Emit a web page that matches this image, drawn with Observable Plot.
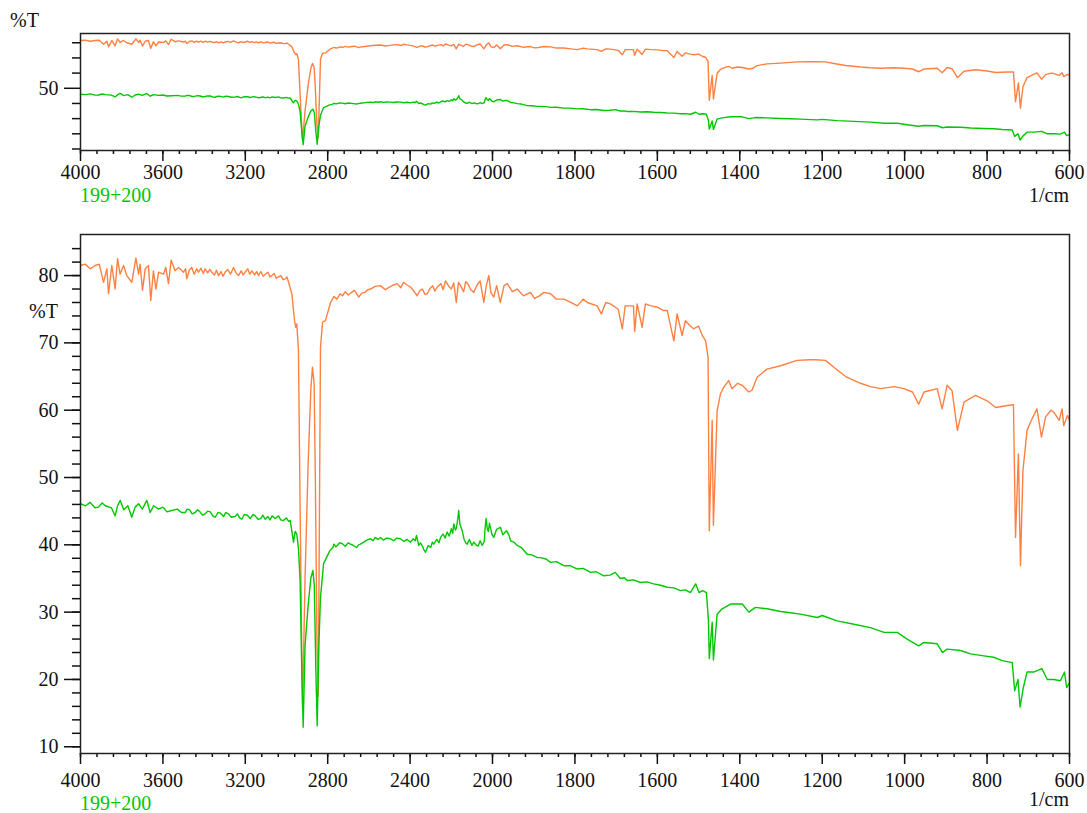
<!DOCTYPE html>
<html><head><meta charset="utf-8">
<script src="https://cdn.jsdelivr.net/npm/d3@7"></script>
<script src="https://cdn.jsdelivr.net/npm/@observablehq/plot@0.6"></script>
<style>
body{margin:0;background:#fff;}
#wrap{position:relative;width:1087px;height:813px;font-family:"Liberation Serif","Times New Roman",Times,"DejaVu Serif",serif;}
.lbl{position:absolute;font-size:20px;line-height:20px;white-space:nowrap;color:#111;}
.panel{position:absolute;left:0;}
svg text{font-family:"Liberation Serif","Times New Roman",Times,"DejaVu Serif",serif !important;}
</style></head><body><div id="wrap">
<div id="top" class="panel" style="top:0"></div>
<div id="bot" class="panel" style="top:210px"></div>
<div class="lbl" style="left:10px;top:10px">%T</div>
<div class="lbl" style="left:80px;top:185px;color:#00c800">199+200</div>
<div class="lbl" style="right:18px;top:185px">1/cm</div>
<div class="lbl" style="left:29px;top:301px">%T</div>
<div class="lbl" style="left:80px;top:793px;color:#00c800">199+200</div>
<div class="lbl" style="right:18px;top:789px">1/cm</div>
</div>
<script>
// Orange spectrum (wavenumber, %T)
const orangeWn = [4000,3977,3953,3929,3909,3888,3872,3864,3848,3832,3820,3808,3791,3775,3751,3731,3718,3711,3699,3686,3670,3659,3646,3634,3621,3597,3586,3573,3560,3541,3524,3500,3490,3484,3472,3460,3448,3436,3427,3415,3404,3395,3383,3372,3363,3350,3340,3330,3318,3308,3298,3285,3272,3257,3245,3233,3220,3210,3201,3188,3178,3168,3155,3145,3136,3125,3113,3103,3090,3080,3071,3060,3050,3039,3027,3016,3006,2998,2990,2974,2961,2955,2950,2942,2932,2922,2910,2895,2882,2874,2866,2860,2852,2846,2840,2835,2825,2811,2786,2770,2755,2740,2728,2715,2700,2689,2670,2649,2635,2620,2605,2592,2570,2544,2520,2500,2480,2463,2445,2432,2415,2398,2380,2366,2352,2340,2328,2317,2303,2290,2280,2268,2250,2240,2228,2212,2200,2188,2176,2165,2155,2140,2130,2120,2105,2091,2075,2060,2050,2042,2030,2018,2008,1997,1990,1981,1972,1964,1952,1940,1925,1908,1898,1888,1875,1859,1845,1827,1810,1794,1780,1770,1746,1736,1725,1714,1695,1685,1678,1658,1655,1649,1637,1629,1615,1600,1585,1576,1560,1552,1540,1532,1520,1512,1500,1491,1483,1477,1474,1467,1464,1455,1447,1439,1427,1419,1405,1394,1378,1370,1358,1334,1301,1261,1230,1216,1192,1168,1143,1107,1083,1058,1026,1002,981,966,953,921,909,897,885,872,856,828,800,779,751,736,731,724,719,713,703,691,679,668,658,645,638,625,618,614,605,600];
const orangeT = [81.5,81.7,81.0,81.5,81.7,79.0,81.0,77.3,81.5,78.0,82.5,80.2,81.5,80.0,79.0,82.6,80.2,81.7,77.8,81.0,81.5,76.3,80.7,78.0,80.5,80.2,81.2,78.8,82.3,80.7,81.2,80.5,81.0,79.5,80.8,81.2,80.2,81.0,80.5,81.1,80.3,81.0,80.4,80.9,80.5,80.1,80.8,80.0,80.6,79.9,80.5,80.9,80.2,81.2,80.4,80.0,80.7,80.1,80.5,81.0,80.2,80.7,80.1,80.6,80.0,80.6,79.9,80.2,80.5,79.8,80.0,80.3,79.6,79.8,80.0,79.4,79.5,79.8,79.0,77.3,73.3,72.3,72.8,68.9,40.0,15.5,35.0,52.0,63.0,66.4,64.0,50.0,25.0,17.5,45.0,69.3,73.1,73.3,76.0,76.9,76.5,77.3,77.0,77.6,77.1,77.4,77.8,76.8,77.4,77.5,77.9,78.0,78.4,78.5,77.9,78.3,78.6,78.8,78.2,79.0,78.6,78.3,77.6,77.0,77.8,78.0,77.2,77.3,78.1,78.5,77.7,78.3,78.8,77.9,79.2,78.4,78.0,78.9,76.0,79.0,78.5,77.6,79.1,78.8,77.9,77.5,78.6,79.2,77.4,76.0,78.5,80.0,77.5,76.8,78.5,76.0,78.5,78.8,77.6,78.0,77.0,77.5,76.6,76.9,77.5,77.3,76.5,76.5,76.0,75.5,76.5,76.0,75.5,74.3,76.0,75.8,75.0,72.1,75.5,75.5,71.7,75.8,72.3,75.8,75.5,75.3,74.8,74.8,70.3,74.3,71.1,73.3,72.5,72.1,72.5,71.1,70.3,67.9,42.1,58.5,42.9,59.9,62.4,63.4,64.4,63.2,64.0,63.7,62.7,63.0,64.9,66.1,66.6,67.4,67.5,67.5,67.4,66.2,65.0,64.0,63.5,63.2,63.5,63.2,62.7,60.9,62.7,63.2,60.2,63.7,62.9,57.0,61.2,62.2,61.4,60.4,60.7,60.8,41.1,53.5,36.9,51.0,57.0,58.7,60.2,56.0,59.0,60.0,59.7,58.5,60.2,57.7,59.2,58.5];

// Green spectrum "199+200" (wavenumber, %T)
const greenWn = [4000,3975,3953,3930,3913,3895,3880,3850,3832,3820,3807,3790,3770,3751,3735,3718,3700,3678,3662,3645,3621,3600,3580,3557,3530,3510,3492,3482,3470,3458,3443,3432,3420,3408,3395,3383,3370,3358,3346,3333,3320,3305,3295,3282,3268,3250,3238,3227,3217,3205,3190,3176,3163,3152,3138,3125,3115,3104,3090,3080,3070,3055,3039,3028,3015,3000,2990,2982,2966,2958,2950,2942,2934,2925,2919,2910,2895,2882,2872,2865,2858,2851,2843,2835,2820,
  2790,2775,2770,2760,2754,2742,2730,2715,2700,2689,
  2675,2660,2650,2641,2625,2610,2592,2580,2570,2556,
  2544,2530,2515,2495,2480,2465,2447,2430,2415,2398,
  2385,2375,2369,2358,2350,2340,2332,2325,2312,2300,
  2292,2285,2270,2260,2252,2240,2230,2220,2210,2200,
  2193,2188,2180,2175,2168,2164,2158,2155,2147,2138,
  2130,2123,2112,2100,2091,2080,2070,2060,2050,2040,
  2036,2031,2025,2020,2015,2010,2003,1997,1990,1981,
  1975,1966,1960,1956,1948,1940,1930,1916,1905,1891,
  1884,1870,1859,1845,1827,1812,1794,1780,1762,1748,
  1730,1715,1702,1690,1680,1673,1658,1641,1625,1609,
  1592,1576,1560,1544,1532,1520,1507,1499,1490,1481,
  1476,1474,1467,1464,1455,1443,1422,1394,1378,1362,1334,1301,1277,1253,1212,1200,1164,1123,1083,1050,1018,994,966,953,921,908,897,864,840,808,784,763,739,733,725,720,712,703,687,667,654,638,622,612,607,600];
const greenT = [46.1,45.8,46.3,45.5,45.6,46.2,45.8,45.5,44.3,45.8,46.6,45.2,45.8,44.1,45.6,46.1,45.3,46.6,44.8,45.8,45.3,45.6,44.9,45.1,45.3,44.8,44.8,45.3,45.2,44.6,44.8,45.2,44.9,44.4,44.6,45.0,44.9,44.3,44.1,44.8,44.7,44.2,44.8,44.6,44.1,44.2,44.6,44.0,43.8,44.5,44.4,43.9,44.5,44.3,43.8,43.9,44.4,43.8,44.2,43.7,44.3,43.9,44.3,43.7,43.6,44.0,43.5,43.6,40.4,42.0,41.6,39.5,34.7,20.0,12.9,25.0,31.0,35.0,36.2,34.0,22.0,13.1,25.0,32.2,37.2,
  39.1,39.6,40.1,39.7,39.9,40.3,40.2,39.8,40.3,40.1,
  39.9,39.6,40.0,40.1,40.4,40.7,40.9,40.6,41.1,40.8,
  41.1,40.7,41.0,40.9,40.6,41.0,40.9,40.5,40.8,40.4,
  40.9,40.6,41.4,39.9,40.3,39.8,39.2,38.9,39.9,39.6,
  40.4,40.1,40.8,40.3,41.1,41.6,41.0,41.9,41.3,42.4,
  41.7,43.1,42.2,42.5,44.0,45.1,43.0,42.8,42.1,40.8,
  40.3,40.1,40.8,39.9,40.4,40.0,39.8,40.6,39.9,40.5,
  42.5,43.9,42.3,42.0,43.2,42.6,41.6,41.1,42.3,42.6,
  41.5,42.1,41.4,40.6,40.4,39.9,39.6,38.6,38.5,38.1,
  38.1,37.9,37.4,37.5,36.9,36.9,36.4,36.5,35.9,36.0,
  35.4,35.5,35.9,35.0,35.1,34.7,34.8,34.4,34.5,34.2,
  34.0,33.7,33.6,33.2,33.3,32.9,34.2,32.9,33.2,32.9,
  28.7,23.1,28.5,22.9,29.7,30.5,31.2,31.2,30.0,30.7,30.5,30.1,29.9,29.7,29.2,29.5,28.7,28.2,27.7,27.0,27.0,26.0,25.0,25.5,25.3,24.0,24.5,24.3,23.8,23.5,23.3,22.8,22.5,18.3,20.0,15.9,18.8,21.1,21.1,21.6,20.0,20.0,19.8,21.1,18.8,19.5];

// Axis ticks
const xMajor = [4000,3600,3200,2800,2400,2000,1800,1600,1400,1200,1000,800,600];
const xMinor = d3.range(4000, 2000, -80).concat(d3.range(2000, 599, -40));
const yMajorBottom = [10,20,30,40,50,60,70,80];
const yMinorBottom = d3.range(10, 85, 2);
const yMajorTop = [50];
const yMinorTop = [10,20,30,40,60,70,80];

const orangeRows = orangeWn.map((w, i) => ({w, t: orangeT[i]}));
const greenRows = greenWn.map((w, i) => ({w, t: greenT[i]}));

const ORANGE = "#ff8040", GREEN = "#00c800";
const FONT = "'Liberation Serif','Times New Roman',Times,'DejaVu Serif',serif";

function panel(height, marginTop, yMajor, yMinor, xPad) {
  return Plot.plot({
    width: 1087, height, marginTop, marginBottom: 60, marginLeft: 80, marginRight: 18,
    style: {fontFamily: FONT, fontSize: "20px", color: "#111", background: "white"},
    x: {type: "linear", domain: [4000, 2000, 600], range: [80, 492, 1069]},
    y: {domain: [9, 86.1]},
    marks: [
      Plot.axisX({ticks: xMajor, tickSize: 11, tickPadding: xPad, tickFormat: d => String(d), label: null, strokeWidth: 1.5}),
      Plot.axisX({ticks: xMinor, tickSize: 4, tickFormat: () => "", label: null, strokeWidth: 1.5}),
      Plot.axisY({ticks: yMajor, tickSize: 16, tickPadding: 6, tickFormat: d => String(d), label: null, strokeWidth: 1.5}),
      Plot.axisY({ticks: yMinor, tickSize: 8, tickFormat: () => "", label: null, strokeWidth: 1.5}),
      Plot.line(orangeRows, {x: "w", y: "t", stroke: ORANGE, strokeWidth: 1.4}),
      Plot.line(greenRows, {x: "w", y: "t", stroke: GREEN, strokeWidth: 1.4}),
      Plot.frame({stroke: "#222", strokeWidth: 1.5})
    ]
  });
}

document.getElementById("top").appendChild(panel(210, 33, yMajorTop, yMinorTop, 3));
document.getElementById("bot").appendChild(panel(603, 24, yMajorBottom, yMinorBottom, 8));
</script>
</body></html>
